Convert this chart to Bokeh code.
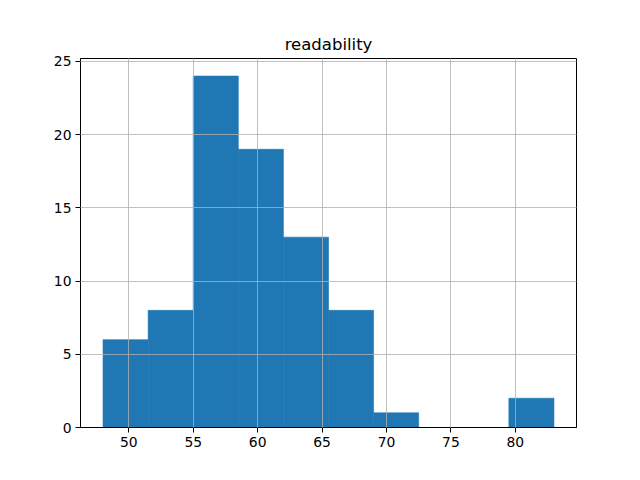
from bokeh.plotting import figure
from bokeh.models import FixedTicker, Range1d
from bokeh.embed import file_html
from bokeh.resources import INLINE

bin_edges = [48.0, 51.5, 55.0, 58.5, 62.0, 65.5, 69.0, 72.5, 76.0, 79.5, 83.0]
counts = [6, 8, 24, 19, 13, 8, 1, 0, 0, 2]
x_ticks = [50, 55, 60, 65, 70, 75, 80]
y_ticks = [0, 5, 10, 15, 20, 25]

p = figure(width=640, height=480, output_backend="svg", toolbar_location=None,
           x_range=Range1d(46.25, 84.75), y_range=Range1d(0, 25.2),
           title="readability",
           min_border_left=80, min_border_right=64, min_border_top=58, min_border_bottom=53)

p.quad(left=bin_edges[:-1], right=bin_edges[1:], bottom=0, top=counts,
       fill_color="#1f77b4", line_color="#1f77b4", line_width=0.6)

p.title.align = "center"
p.title.text_font = "DejaVu Sans"
p.title.text_font_size = "16.5px"
p.title.text_font_style = "normal"
p.title.text_color = "black"
p.title.standoff = 9

for ax in (p.xaxis, p.yaxis):
    ax.major_label_text_font = "DejaVu Sans"
    ax.major_label_text_font_size = "13.9px"
    ax.major_label_text_color = "black"
    ax.major_tick_out = 5
    ax.major_tick_in = 0
    ax.minor_tick_line_color = None
    ax.axis_line_color = "black"
    ax.major_tick_line_color = "black"
    ax.major_label_standoff = 4

p.xaxis.ticker = FixedTicker(ticks=x_ticks)
p.yaxis.ticker = FixedTicker(ticks=y_ticks)

for g in (p.xgrid, p.ygrid):
    g.grid_line_color = "#b0b0b0"
    g.grid_line_width = 0.8
    g.level = "overlay"
p.xgrid.ticker = FixedTicker(ticks=x_ticks)
p.ygrid.ticker = FixedTicker(ticks=y_ticks)

p.outline_line_color = "black"
p.outline_line_width = 1
p.outline_line_alpha = 1

open("out.html", "w").write(file_html(p, INLINE))
